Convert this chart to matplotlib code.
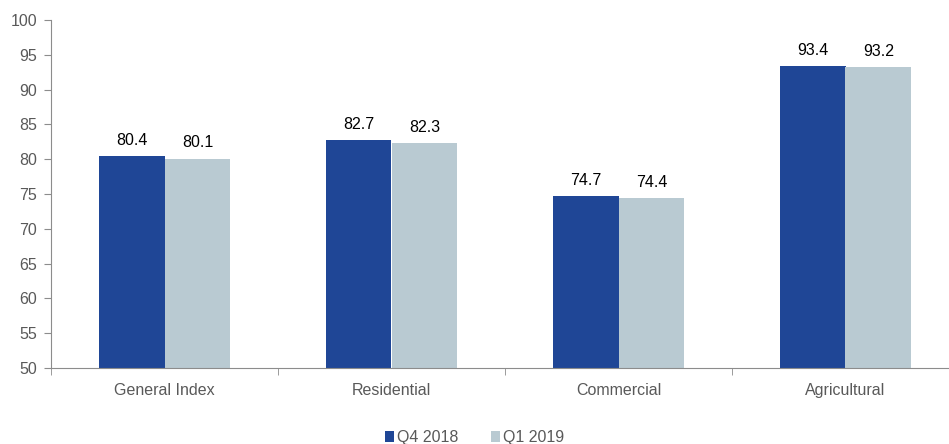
import matplotlib.pyplot as plt
import numpy as np

plt.rcParams["font.family"] = ["Liberation Sans", "DejaVu Sans"]

categories = ["General Index", "Residential", "Commercial", "Agricultural"]
q4_2018 = [80.4, 82.7, 74.7, 93.4]
q1_2019 = [80.1, 82.3, 74.4, 93.2]
series_names = ["Q4 2018", "Q1 2019"]

dark = "#1F4696"
light = "#B9CAD2"
axis_grey = "#8C8C8C"
text_grey = "#595959"

fig = plt.figure(figsize=(9.49, 4.44), dpi=100)
# the last group runs slightly past the right edge of the figure
ax = fig.add_axes([51 / 949, 76 / 444, 908 / 949, 348 / 444])

x = np.arange(len(categories))
w = 0.29
b1 = ax.bar(x - w / 2, q4_2018, width=w, color=dark, label=series_names[0])
b2 = ax.bar(x + w / 2, q1_2019, width=w, color=light, label=series_names[1])

for bars, vals in ((b1, q4_2018), (b2, q1_2019)):
    for rect, v in zip(bars, vals):
        ax.text(rect.get_x() + rect.get_width() / 2, v + 1.2, f"{v:.1f}",
                ha="center", va="bottom", fontsize=11.5, color="black")

ax.set_ylim(50, 100)
ax.set_xlim(-0.5, len(categories) - 0.5)
ax.set_yticks(np.arange(50, 101, 5))

# category labels centred, tick marks on group boundaries
ax.set_xticks(x)
ax.set_xticklabels(categories)
ax.tick_params(axis="x", length=0, pad=11, labelsize=11.5, labelcolor=text_grey)
ax.set_xticks(np.arange(-0.5, len(categories) + 0.5, 1.0), minor=True)
ax.tick_params(axis="x", which="minor", length=5, color=axis_grey, direction="out")
ax.tick_params(axis="y", length=5, color=axis_grey, labelsize=11.5, labelcolor=text_grey, pad=5)

for side in ("top", "right"):
    ax.spines[side].set_visible(False)
for side in ("left", "bottom"):
    ax.spines[side].set_color(axis_grey)

fig.legend(loc="lower center", bbox_to_anchor=(0.5, -0.035), ncol=2, frameon=False,
           fontsize=11.5, handlelength=0.6, handleheight=0.6, handletextpad=0.2,
           columnspacing=2.0, labelcolor=text_grey)

fig.savefig("out.png", dpi=100)
